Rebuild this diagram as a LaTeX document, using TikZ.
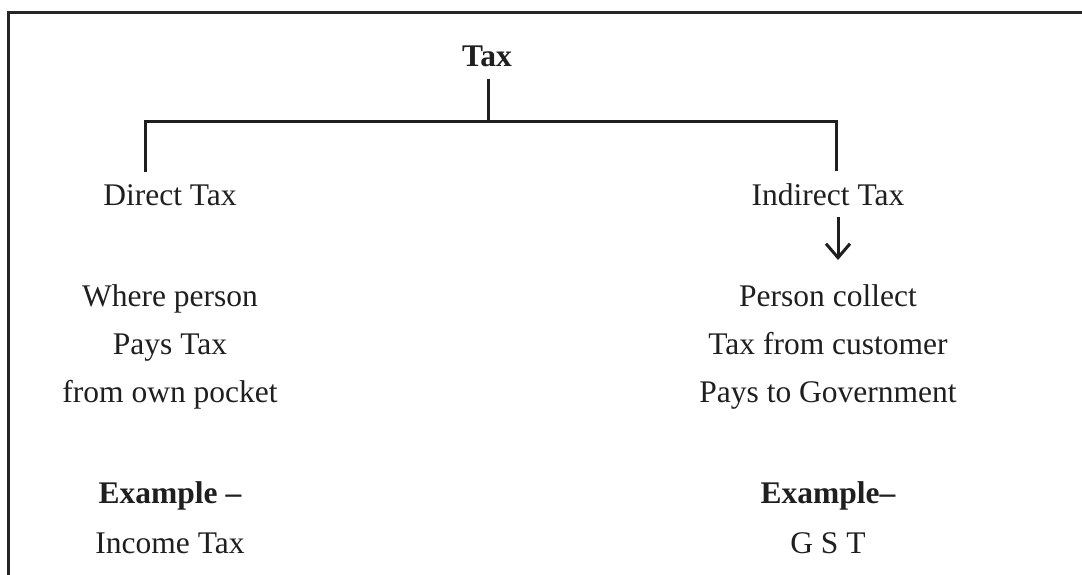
\documentclass[tikz,border=0pt]{standalone}
\usepackage{fontspec}
\setmainfont{Liberation Serif}
\usetikzlibrary{arrows.meta}
\begin{document}
\begin{tikzpicture}[x=1pt,y=-1pt,
  txt/.style={anchor=base,inner sep=0pt,font=\fontsize{31.5}{36}\selectfont,text=black!88},
  btxt/.style={txt,font=\fontsize{31.5}{36}\selectfont\bfseries},
  ln/.style={line width=3pt,black!88},
  frame/.style={line width=3pt,black!85}]
\useasboundingbox (0,0) rectangle (1082,575);
% frame (top and left sides)
\coordinate (f1) at (8,576);
\coordinate (f2) at (8,13);
\coordinate (f3) at (1083,13);
\draw[frame,line join=miter] (f1) -- (f2) -- (f3);
% texts
\node[btxt] (tax) at (487,67) {Tax};
\node[txt] (direct) at (170,205) {Direct Tax};
\node[txt] (indirect) at (828,205) {Indirect Tax};
\node[txt] (l1) at (170,306) {Where person};
\node[txt] (l2) at (170,354) {Pays Tax};
\node[txt] (l3) at (170,402) {from own pocket};
\node[btxt] (lex) at (170,503) {Example --};
\node[txt] (lin) at (170,553) {Income Tax};
\node[txt] (r1) at (828,306) {Person collect};
\node[txt] (r2) at (828,354) {Tax from customer};
\node[txt] (r3) at (828,402) {Pays to Government};
\node[btxt] (rex) at (828,503) {Example--};
\node[txt] (rin) at (828,553) {G S T};
% tree connectors
\coordinate (t1) at (488,79);
\coordinate (t2) at (488,122);
\coordinate (hl) at (145,122);
\coordinate (hr) at (836,122);
\coordinate (dl) at (145,172);
\coordinate (dr) at (836,171);
\draw[ln] (t1) -- (t2);
\draw[ln,line join=miter] (dl) -- (hl) -- (hr) -- (dr);
% arrow
\coordinate (a1) at (838,217);
\coordinate (a2) at (838,260);
\draw[ln,-{Straight Barb[length=14pt,width=24pt,line width=3pt]}] (a1) -- (a2);
\end{tikzpicture}
\end{document}
